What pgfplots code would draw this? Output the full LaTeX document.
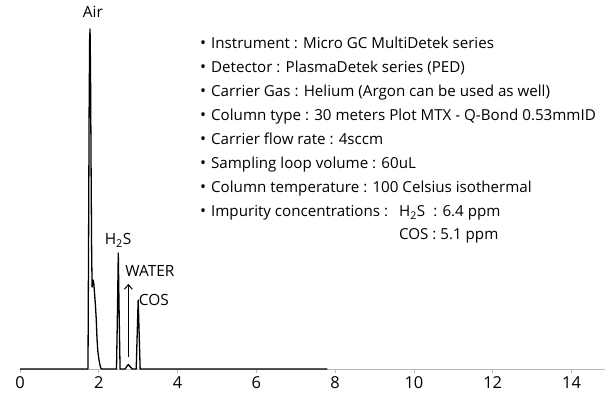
\documentclass[border=0pt]{standalone}
\usepackage{fontspec}
\setmainfont{Open Sans}
\usepackage{pgfplots}
\pgfplotsset{compat=1.18}
\usetikzlibrary{arrows.meta}
\begin{document}
\begin{tikzpicture}
\useasboundingbox (-20bp,-25bp) rectangle (585bp,369bp);
\begin{axis}[
  at={(0,0)}, anchor=origin,
  scale only axis, width=585bp, height=369bp,
  xmin=0, xmax=14.85, ymin=0, ymax=369,
  axis x line*=bottom, axis y line=none,
  xtick={0,2,...,14},
  x axis line style={gray!55, line width=0.8bp},
  major tick length=4bp, tick align=outside,
  xtick style={gray!55, line width=0.8bp},
  ticklabel style={font=\fontsize{16.5}{19}\selectfont},
  /pgf/number format/assume math mode=true,
  clip=false,
]
\addplot[black, line width=1.3bp, line join=round] coordinates {
(0,0) (1.70,0) (1.726,0) (1.740,120) (1.755,260) (1.768,330) (1.778,340)
(1.790,300) (1.805,200) (1.818,120) (1.830,82) (1.843,85) (1.855,89)
(1.875,85) (1.895,74) (1.915,64) (1.935,50) (1.955,30) (1.975,18)
(2.005,9) (2.030,4) (2.050,1) (2.08,0)
(2.45,0) (2.475,60) (2.495,116) (2.515,60) (2.54,0)
(2.67,0) (2.71,2.5) (2.75,4.5) (2.79,2.5) (2.85,0)
(2.95,0) (2.975,35) (3.0,69) (3.025,35) (3.05,0)
(7.8,0)
};
\draw[black, line width=1bp, -{Straight Barb[length=4.5bp,width=8bp]}] (axis cs:2.75,12) -- (axis cs:2.75,85);
\tikzset{lab/.style={font=\fontsize{15.5}{18}\selectfont, inner sep=0pt}}
\node[lab] at (axis cs:1.85,357.5) {Air};
\node[lab] at (axis cs:2.49,129) {H\textsubscript{2}S};
\node[lab] at (axis cs:3.30,98) {WATER};
\node[lab] at (axis cs:3.40,69) {COS};
% information block
\tikzset{info/.style={font=\fontsize{15.2}{18}\selectfont, inner sep=0pt, anchor=base west},
         bul/.style={font=\fontsize{16}{18}\selectfont, inner sep=0pt, anchor=base}}
\node[bul] at (axis cs:4.65,320.1) {•};
\node[info] at (axis cs:4.848,320.1) {Instrument : Micro GC MultiDetek series};
\node[bul] at (axis cs:4.65,296.1) {•};
\node[info] at (axis cs:4.848,296.1) {Detector : PlasmaDetek series (PED)};
\node[bul] at (axis cs:4.65,272.1) {•};
\node[info] at (axis cs:4.848,272.1) {Carrier Gas : Helium (Argon can be used as well)};
\node[bul] at (axis cs:4.65,248.1) {•};
\node[info] at (axis cs:4.848,248.1) {Column type : 30 meters Plot MTX - Q-Bond 0.53mmID};
\node[bul] at (axis cs:4.65,224.1) {•};
\node[info] at (axis cs:4.848,224.1) {Carrier flow rate : 4sccm};
\node[bul] at (axis cs:4.65,200.1) {•};
\node[info] at (axis cs:4.848,200.1) {Sampling loop volume : 60uL};
\node[bul] at (axis cs:4.65,176.1) {•};
\node[info] at (axis cs:4.848,176.1) {Column temperature : 100 Celsius isothermal};
\node[bul] at (axis cs:4.65,152.1) {•};
\node[info] at (axis cs:4.848,152.1) {Impurity concentrations :};
\node[info] at (axis cs:9.62,152.1) {H\textsubscript{2}S};
\node[info] at (axis cs:10.485,152.1) {: 6.4 ppm};
\node[info] at (axis cs:9.62,129.6) {COS : 5.1 ppm};
\end{axis}
\end{tikzpicture}
\end{document}
